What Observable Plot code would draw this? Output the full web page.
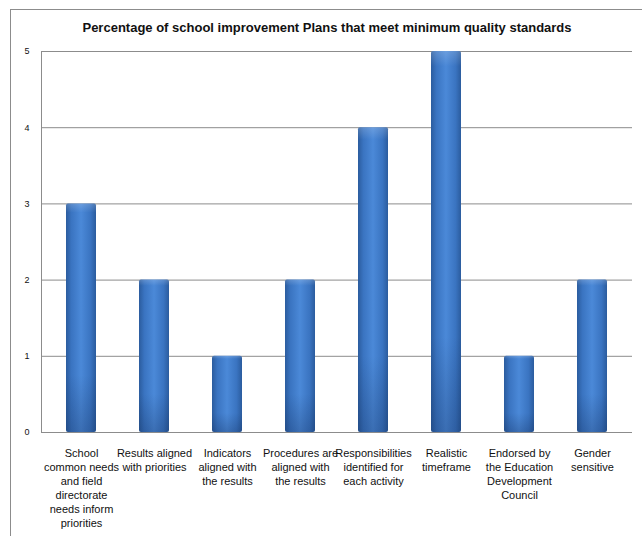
<!DOCTYPE html>
<html>
<head>
<meta charset="utf-8">
<script src="https://cdn.jsdelivr.net/npm/d3@7"></script>
<script src="https://cdn.jsdelivr.net/npm/@observablehq/plot@0.6"></script>
<style>
  body { margin: 0; background: #fff; }
  svg text { font-family: "Liberation Sans", Arial, sans-serif; }
</style>
</head>
<body>
<div id="chart"></div>
<script>
// Standards met by the school improvement plans
const categories = [
  "School\ncommon needs\nand field\ndirectorate\nneeds inform\npriorities",
  "Results aligned\nwith priorities",
  "Indicators\naligned with\nthe results",
  "Procedures are\naligned with\nthe results",
  "Responsibilities\nidentified for\neach activity",
  "Realistic\ntimeframe",
  "Endorsed by\nthe Education\nDevelopment\nCouncil",
  "Gender\nsensitive"
];
const values = [3, 2, 1, 2, 4, 5, 1, 2];
const yTicks = [0, 1, 2, 3, 4, 5];
const title = "Percentage of school improvement Plans that meet minimum quality standards";

const data = categories.map((c, i) => ({category: c, value: values[i]}));

const chart = Plot.plot({
  width: 642,
  height: 536,
  marginTop: 51,
  marginLeft: 41,
  marginRight: 10,
  marginBottom: 104,
  style: {fontSize: "11px", color: "#111"},
  x: {domain: categories, paddingInner: 0.59, paddingOuter: 0.295, label: null},
  y: {domain: [0, 5], label: null},
  marks: [
    Plot.gridY(yTicks, {stroke: "#8c8c8c", strokeOpacity: 1}),
    Plot.barY(data, {x: "category", y: "value", fill: "url(#barShade)", rx: 2}),
    Plot.barY(data, {x: "category", y: "value", fill: "url(#barBase)", rx: 2}),
    Plot.axisY(yTicks, {tickSize: 0, tickPadding: 12, fontSize: 9, tickFormat: "d", label: null}),
    Plot.axisX({tickSize: 0, tickPadding: 14, lineHeight: 1.28, label: null, fontSize: 11})
  ]
});

const svg = d3.select(chart);
const defs = svg.insert("defs", ":first-child");
const g1 = defs.append("linearGradient").attr("id", "barShade")
  .attr("x1", 0).attr("y1", 0).attr("x2", 1).attr("y2", 0);
[["0%", "#2b5c9e"], ["18%", "#3a74c1"], ["50%", "#4b89d8"], ["82%", "#3a74c1"], ["100%", "#2b5c9e"]]
  .forEach(([o, c]) => g1.append("stop").attr("offset", o).attr("stop-color", c));
const g2 = defs.append("linearGradient").attr("id", "barBase")
  .attr("x1", 0).attr("y1", 0).attr("x2", 0).attr("y2", 1);
[["0%", "#ffffff", 0.18], ["4%", "#ffffff", 0], ["75%", "#0a1e46", 0], ["100%", "#0a1e46", 0.25]]
  .forEach(([o, c, a]) => g2.append("stop").attr("offset", o).attr("stop-color", c).attr("stop-opacity", a));

// value axis line along the left edge of the plot area
const yScale = chart.scale("y");
const [yTop, yBottom] = [yScale.apply(5), yScale.apply(0)];
svg.append("line").attr("x1", 41.5).attr("x2", 41.5).attr("y1", yTop).attr("y2", yBottom)
  .attr("stroke", "#8c8c8c");

// outer chart-area frame
svg.append("rect").attr("x", 10.5).attr("y", 9.5).attr("width", 700).attr("height", 600)
  .attr("fill", "none").attr("stroke", "#8c8c8c");

svg.append("text").attr("x", 327).attr("y", 32).attr("text-anchor", "middle")
  .attr("font-size", 13).attr("font-weight", "bold").attr("fill", "#111").text(title);

document.getElementById("chart").appendChild(chart);
</script>
</body>
</html>
